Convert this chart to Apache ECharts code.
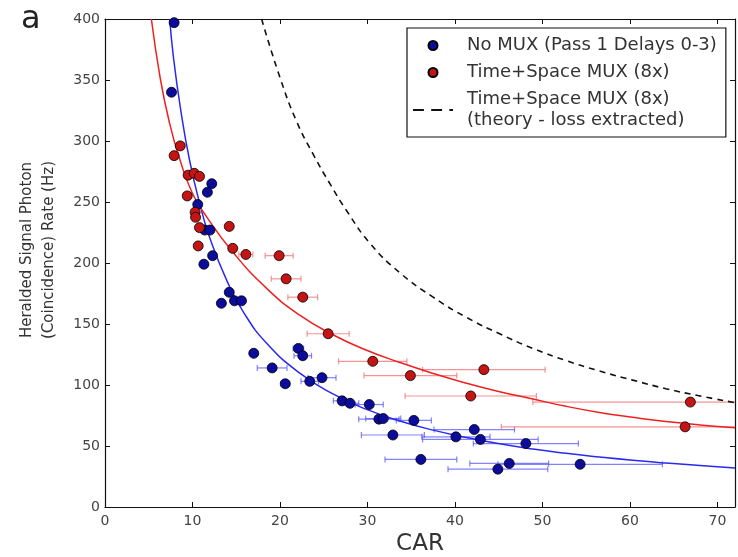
<!DOCTYPE html>
<html>
<head>
<meta charset="utf-8">
<script src="https://cdn.jsdelivr.net/npm/echarts@6/dist/echarts.min.js"></script>
<style>
  html, body { margin: 0; padding: 0; background: #fff; }
  #chart { width: 738px; height: 557px; }
</style>
</head>
<body>
<div id="chart"></div>
<script>
// [CAR, rate (Hz), CAR error +/-]
const noMuxPoints = [
  [7.9, 397, 0], [7.6, 340, 0], [12.2, 265, 0], [11.7, 258, 0], [10.6, 248, 0],
  [11.4, 227, 0], [12.0, 227, 0], [12.3, 206, 0], [11.3, 199, 0],
  [14.2, 176, 0.3], [13.3, 167, 0.3], [14.8, 169, 0.4], [15.6, 169, 0.4],
  [17.0, 126, 0.4], [19.1, 114, 1.7], [20.6, 101, 0.5], [22.1, 130, 0.6],
  [22.6, 124, 1.0], [23.4, 103, 1.0], [24.8, 106, 1.6], [27.1, 87, 1.0],
  [28.0, 85, 1.0], [30.2, 84, 1.6], [31.3, 72, 2.3], [31.8, 72.5, 2.0],
  [35.3, 71, 2.0], [32.9, 59, 3.6], [42.2, 63.5, 4.6], [40.1, 57.5, 3.9],
  [42.9, 55.4, 6.6], [48.1, 52, 6.0], [36.1, 39, 4.1], [46.2, 35.7, 4.5],
  [44.9, 31, 5.7], [54.3, 35, 9.4]
];
const muxPoints = [
  [8.6, 296, 0], [7.9, 288, 0], [9.5, 272, 0], [10.2, 273.5, 0], [10.8, 271, 0],
  [9.4, 255, 0], [10.3, 241.6, 0], [10.35, 237.5, 0], [10.8, 229, 0],
  [10.65, 214, 0], [14.2, 230, 0], [14.6, 212, 0.3], [16.1, 207, 0.8],
  [19.9, 206, 1.6], [20.7, 187, 1.7], [22.6, 172, 1.7], [25.5, 142, 2.4],
  [30.6, 119.4, 3.9], [34.9, 107.7, 5.3], [43.3, 112.6, 7.0], [41.8, 91, 7.5],
  [66.9, 86, 18], [66.3, 65.7, 21]
];
// fit curves
const noMuxFit = [
  [7.4, 400], [7.8, 370], [8.6, 328], [9.7, 283], [11, 244], [12, 220],
  [13.9, 186], [15.8, 160], [18.5, 134], [22.3, 109.5], [26.1, 92.5],
  [29.9, 80], [33.7, 70.5], [37.5, 63], [41.3, 57], [45.1, 51.8], [48.9, 47.5],
  [52.7, 44], [56.5, 41], [60.3, 38.3], [64.1, 36], [68, 34], [72, 32]
];
const muxFit = [
  [5.3, 400], [6.3, 352], [7.3, 317], [8.5, 286], [10, 257], [11.6, 238],
  [14.6, 209], [18.5, 179], [22.3, 157], [26.1, 141], [29.9, 128.5],
  [33.7, 118.5], [37.5, 109.5], [41.3, 101.5], [45.1, 94.5], [48.9, 88.5],
  [52.7, 82.5], [56.5, 77.5], [60.3, 73.5], [64.1, 70], [68, 67.3], [72, 65]
];
const theoryCurve = [
  [17.9, 400], [20.0, 352], [21.9, 316], [23.8, 289], [25.7, 265], [27.6, 243],
  [30.3, 216], [33.7, 192], [37.5, 172], [41.3, 155.5], [45.1, 142], [48.9, 130],
  [52.7, 120], [56.5, 111.5], [60.3, 104], [64.1, 97], [68, 91], [72, 85.5]
];
const xTicks = { min: 0, max: 72, step: 10 };
const yTicks = { min: 0, max: 400, step: 50 };

const blueDot = '#0c0c9c';
const redDot = '#c41414';
const blueLine = '#2a2aee';
const redLine = '#ee2020';
const font = 'DejaVu Sans';

function errorBars(params, api) {
  const x = api.value(0), y = api.value(1), e = api.value(2);
  if (!(e > 0)) return null;
  const cs = params.coordSys;
  const p1 = api.coord([x - e, y]);
  const p2 = api.coord([x + e, y]);
  const left = cs.x, right = cs.x + cs.width;
  const cap = 3;
  const children = [];
  const a = Math.max(p1[0], left), b = Math.min(p2[0], right);
  children.push({ type: 'line', shape: { x1: a, y1: p1[1], x2: b, y2: p1[1] } });
  if (p1[0] >= left) children.push({ type: 'line', shape: { x1: p1[0], y1: p1[1] - cap, x2: p1[0], y2: p1[1] + cap } });
  if (p2[0] <= right) children.push({ type: 'line', shape: { x1: p2[0], y1: p2[1] - cap, x2: p2[0], y2: p2[1] + cap } });
  children.forEach(c => { c.style = { stroke: api.visual('color'), lineWidth: 1.2, opacity: 0.75 }; });
  return { type: 'group', children: children };
}

function frameAxis() {
  return {
    axisLine: { show: true, onZero: false, lineStyle: { color: '#111', width: 1.2 } },
    axisTick: { show: true, inside: true, length: 5, lineStyle: { color: '#111' } },
    splitLine: { show: false }
  };
}

const dashIcon = 'path://M0,0h6v1.2h-6z M10,0h6v1.2h-6z M20,0h2v1.2h-2z';

const chart = echarts.init(document.getElementById('chart'), null, { renderer: 'canvas' });
chart.setOption({
  animation: false,
  backgroundColor: '#fff',
  graphic: [{
    type: 'text', left: 21, top: 4,
    style: { text: 'a', fontSize: 32, fontFamily: font, fill: '#222' }
  }],
  grid: { left: 105, right: 3, top: 19, bottom: 50, containLabel: false, outerBoundsMode: 'none' },
  legend: {
    orient: 'vertical',
    left: 407, top: 28,
    padding: [7, 9, 6, 6],
    itemGap: 6,
    itemWidth: 40,
    itemHeight: 9,
    borderColor: '#111', borderWidth: 1.2,
    backgroundColor: '#fff',
    textStyle: { fontFamily: font, fontSize: 18, color: '#333', lineHeight: 21, padding: [0, 0, 0, 9] },
    data: [
      'No MUX (Pass 1 Delays 0-3)',
      'Time+Space MUX (8x)',
      { name: 'Time+Space MUX (8x)\n(theory - loss extracted)', icon: dashIcon }
    ]
  },
  xAxis: [
    Object.assign({
      type: 'value', min: xTicks.min, max: xTicks.max, interval: xTicks.step,
      name: 'CAR', nameLocation: 'middle', nameGap: 24,
      nameTextStyle: { fontFamily: font, fontSize: 23, color: '#333' },
      axisLabel: { fontFamily: font, fontSize: 14, color: '#444', margin: 7, showMaxLabel: false }
    }, frameAxis()),
    Object.assign({
      type: 'value', position: 'top', min: xTicks.min, max: xTicks.max, interval: xTicks.step,
      axisLabel: { show: false }
    }, frameAxis())
  ],
  yAxis: [
    Object.assign({
      type: 'value', min: yTicks.min, max: yTicks.max, interval: yTicks.step,
      name: 'Heralded Signal Photon\n(Coincidence) Rate (Hz)',
      nameLocation: 'middle', nameGap: 45, nameRotate: 90,
      nameTextStyle: { fontFamily: font, fontSize: 15, color: '#333', lineHeight: 22, padding: [0, 0, 0, 26] },
      axisLabel: { fontFamily: font, fontSize: 14, color: '#444', margin: 5 }
    }, frameAxis()),
    Object.assign({
      type: 'value', position: 'right', min: yTicks.min, max: yTicks.max, interval: yTicks.step,
      axisLabel: { show: false }
    }, frameAxis())
  ],
  series: [
    {
      type: 'custom', name: 'noMuxErr', renderItem: errorBars, data: noMuxPoints,
      itemStyle: { color: '#5a5aff' }, z: 1, silent: true
    },
    {
      type: 'custom', name: 'muxErr', renderItem: errorBars, data: muxPoints,
      itemStyle: { color: '#f07070' }, z: 1, silent: true
    },
    {
      type: 'line', name: 'noMuxFit', data: noMuxFit, showSymbol: false, symbol: 'none',
      smooth: 0.5, lineStyle: { color: blueLine, width: 1.5 }, z: 2
    },
    {
      type: 'line', name: 'muxFit', data: muxFit, showSymbol: false, symbol: 'none',
      smooth: 0.5, lineStyle: { color: redLine, width: 1.5 }, z: 2
    },
    {
      type: 'line', name: 'Time+Space MUX (8x)\n(theory - loss extracted)', data: theoryCurve,
      showSymbol: false, symbol: 'none', smooth: 0.5,
      itemStyle: { color: '#111' },
      lineStyle: { color: '#111', width: 1.6, type: [6, 5] }, z: 2
    },
    {
      type: 'scatter', name: 'No MUX (Pass 1 Delays 0-3)', data: noMuxPoints, symbolSize: 10,
      itemStyle: { color: blueDot, borderColor: '#000', borderWidth: 0.8, opacity: 1 }, z: 3
    },
    {
      type: 'scatter', name: 'Time+Space MUX (8x)', data: muxPoints, symbolSize: 10,
      itemStyle: { color: redDot, borderColor: '#000', borderWidth: 0.8, opacity: 1 }, z: 3
    }
  ]
});
</script>
</body>
</html>
